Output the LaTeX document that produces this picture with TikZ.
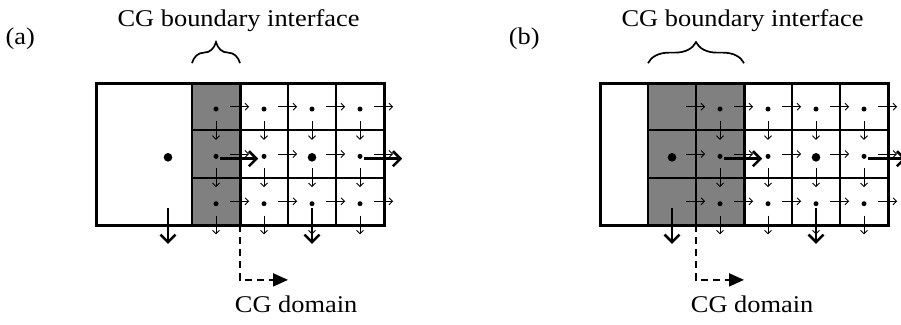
\documentclass[tikz,border=0pt]{standalone}
\usepackage{fontspec}
\setmainfont{Liberation Serif}
\usepackage{tikz}
\usetikzlibrary{arrows.meta}
\usetikzlibrary{decorations.pathreplacing}
\definecolor{cellGray}{RGB}{128,128,128}

\begin{document}
\begin{tikzpicture}
[x=48pt,y=47.33pt,%
  gridLine/.style={line width=2pt},%
  boxLine/.style={line width=3pt},%
  fineArrow/.style={line width=0.9pt,-{Straight Barb[length=3.5pt,width=7pt]}},%
  coarseArrow/.style={line width=2.6pt,-{Straight Barb[length=7.5pt,width=15pt]}},%
  domainArrow/.style={line width=2pt,dash pattern=on 7pt off 5pt,-{Triangle[length=15pt,width=13pt]}},%
  braceDecorate/.style={line width=1.7pt,decorate,decoration={brace,amplitude=21pt}},%
  labelText/.style={font=\fontsize{24}{28}\selectfont,xscale=1.1,inner sep=0pt,anchor=base}]
\useasboundingbox (0pt,-99pt) rectangle (901pt,225pt);
%% one panel for each offset; \gl is the left edge of the gray cells
\foreach \o/\gl/\p in {0/4/a, 10.5/3/b}
{
  %% cells
  \fill[cellGray] (\o+\gl,0) rectangle (\o+5,3);
  \foreach \c in {4,6,7}
    \draw[gridLine] (\o+\c,0) -- (\o+\c,3);
  \draw[gridLine] (\o+\gl,0) -- (\o+\gl,3);
  \foreach \r in {1,2}
    \draw[gridLine] (\o+\gl,\r) -- (\o+8,\r);
  \draw[boxLine] (\o+2,0) rectangle (\o+8,3);
  \draw[boxLine] (\o+5,0) -- (\o+5,3);
  %% fine fluxes and dots
  \pgfmathtruncatemacro\first{\gl+1}
  \foreach \f in {\first,...,8}
    \foreach \r in {0,1,2}
      \draw[fineArrow] (\o+\f-0.21,\r+0.5) -- (\o+\f+0.19,\r+0.5);
  \foreach \c in {4,...,7}
    \foreach \r in {0,1,2}
    {
      \draw[fineArrow] (\o+\c+0.5,\r+0.2) -- (\o+\c+0.5,\r-0.2);
      \fill (\o+\c+0.5,\r+0.45) circle (2.5pt);
    }
  %% coarse fluxes and dots
  \fill (\o+3.5,1.43) circle (4.3pt);
  \fill (\o+6.5,1.43) circle (4.3pt);
  \draw[coarseArrow] (\o+4.58,1.4) -- (\o+5.38,1.4);
  \draw[coarseArrow] (\o+7.58,1.4) -- (\o+8.38,1.4);
  \draw[coarseArrow] (\o+3.5,0.36) -- (\o+3.5,-0.4);
  \draw[coarseArrow] (\o+6.5,0.36) -- (\o+6.5,-0.4);
  %% interface label and brace
  \draw[braceDecorate] (\o+\gl,3.42) -- (\o+5,3.42);
  \node[labelText] (iface-\p) at (\o+4.97,4.19) {CG boundary interface};
  \node[labelText] (tag-\p) at (\o+0.42,3.82) {(\p)};
  %% domain pointer
  \coordinate (cut-\p) at (\o+\gl+1,0);
  \coordinate (bend-\p) at (\o+\gl+1,-1.16);
  \coordinate (tip-\p) at (\o+\gl+2,-1.16);
  \draw[domainArrow] (cut-\p) -- (bend-\p) -- (tip-\p);
  \node[labelText] (dom-\p) at (\o+\gl+2.17,-1.84) {CG domain};
}
\end{tikzpicture}
\end{document}
